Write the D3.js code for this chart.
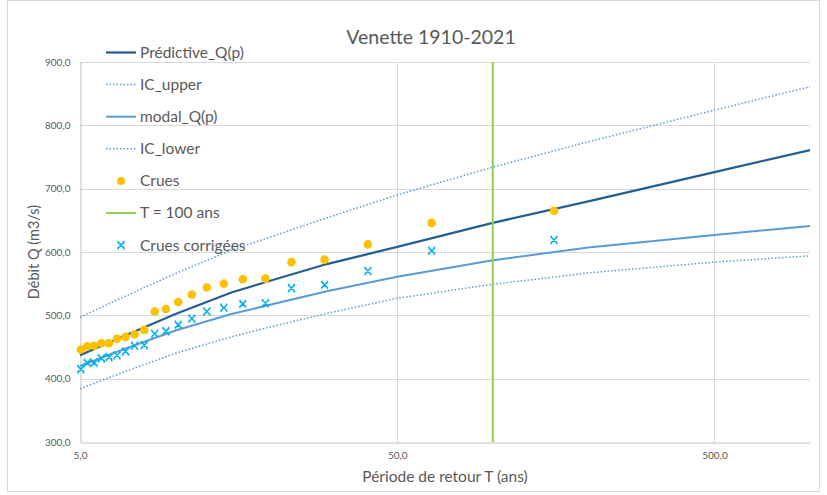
<!DOCTYPE html>
<html>
<head>
<meta charset="utf-8">
<title>Venette 1910-2021</title>
<script src="https://cdn.jsdelivr.net/npm/d3@7"></script>
<style>
  body { margin: 0; background: #fff; }
  text { font-family: Lato, "Open Sans", sans-serif; fill: #595959; }
</style>
</head>
<body>
<div id="chart"></div>
<script>
// return periods of the fitted curves
var curveT = [5, 7, 10, 15, 20, 30, 50, 100, 200, 500, 1000];
var predictiveQ = [437, 469, 502, 536, 555, 581, 608, 646, 680, 726, 761];
var icUpper = [497, 531, 566, 603, 624, 654, 690, 734, 774, 824, 861];
var modalQ = [420, 448, 476, 502, 517, 538, 561, 587, 607, 627, 641];
var icLower = [384, 412, 440, 466, 482, 503, 527, 549, 567, 584, 594];

// observed floods (plotting positions)
var cruesT = [156.0, 64.2, 40.4, 29.5, 23.2, 19.2, 16.3, 14.2, 12.55, 11.26, 10.2,
              9.33, 8.60, 7.97, 7.43, 6.96, 6.54, 6.17, 5.84, 5.54, 5.27, 5.03];
var cruesQ = [665, 646, 612, 588, 584, 558, 557, 550, 544, 533, 521,
              510, 506, 477, 470, 466, 463, 456, 456, 452, 451, 446];
var corrigeesQ = [619, 602, 570, 548, 543, 519, 518, 512, 506, 495, 485,
                  475, 471, 453, 452, 443, 437, 434, 432, 425, 425, 415];

var T100 = 100;
var xTicks = [5, 50, 500];
var yTicks = [300, 400, 500, 600, 700, 800, 900];

var W = 827, H = 495;
var plotLeft = 80, plotRight = 810, plotTop = 62, plotBottom = 442;

var svg = d3.select("#chart").append("svg")
    .attr("width", W)
    .attr("height", H);

var x = d3.scaleLog().domain([5, 1000]).range([plotLeft, plotRight]);
var y = d3.scaleLinear().domain([300, 900]).range([plotBottom, plotTop]);

var fmt = function(d) { return d3.format(".1f")(d).replace(".", ","); };

// chart frame
svg.append("rect")
    .attr("x", 7.5).attr("y", 0.5)
    .attr("width", 812).attr("height", 491)
    .attr("fill", "none")
    .attr("stroke", "#d9d9d9");

// grid
svg.append("g")
    .selectAll("line")
    .data(yTicks.slice(1))
    .enter().append("line")
    .attr("x1", plotLeft).attr("x2", plotRight)
    .attr("y1", function(d) { return Math.round(y(d)) + 0.5; })
    .attr("y2", function(d) { return Math.round(y(d)) + 0.5; })
    .attr("stroke", "#d9d9d9");

svg.append("g")
    .selectAll("line")
    .data(xTicks.slice(1))
    .enter().append("line")
    .attr("x1", function(d) { return Math.round(x(d)) + 0.5; })
    .attr("x2", function(d) { return Math.round(x(d)) + 0.5; })
    .attr("y1", plotTop).attr("y2", plotBottom)
    .attr("stroke", "#d9d9d9");

// axes
var xAxis = d3.axisBottom(x).tickValues(xTicks).tickFormat(fmt).tickSize(0).tickPadding(9);
var yAxis = d3.axisLeft(y).tickValues(yTicks).tickFormat(fmt).tickSize(0).tickPadding(10);

var gx = svg.append("g")
    .attr("transform", "translate(0," + (plotBottom + 0.5) + ")")
    .call(xAxis);
gx.select(".domain").attr("stroke", "#bfbfbf");
gx.selectAll("text").style("font-size", "10px").attr("fill", "#595959");

var gy = svg.append("g")
    .attr("transform", "translate(" + (plotLeft + 0.5) + ",0)")
    .call(yAxis);
gy.select(".domain").attr("stroke", "#bfbfbf");
gy.selectAll("text").style("font-size", "10px").attr("fill", "#595959");

// curves
var line = d3.line()
    .x(function(d) { return x(d[0]); })
    .y(function(d) { return y(d[1]); });

function drawCurve(values, color, width, dash) {
    svg.append("path")
        .attr("d", line(d3.zip(curveT, values)))
        .attr("fill", "none")
        .attr("stroke", color)
        .attr("stroke-width", width)
        .attr("stroke-dasharray", dash || null);
}

drawCurve(icUpper, "#5B9BD5", 1.5, "1.5,2");
drawCurve(icLower, "#5B9BD5", 1.5, "1.5,2");
drawCurve(modalQ, "#5B9BD5", 2, null);
drawCurve(predictiveQ, "#255E91", 2.25, null);

// T = 100 ans
svg.append("line")
    .attr("x1", x(T100)).attr("x2", x(T100))
    .attr("y1", plotTop).attr("y2", plotBottom)
    .attr("stroke", "#92D050")
    .attr("stroke-width", 2);

// observed floods
svg.append("g")
    .selectAll("circle")
    .data(d3.zip(cruesT, cruesQ))
    .enter().append("circle")
    .attr("cx", function(d) { return x(d[0]); })
    .attr("cy", function(d) { return y(d[1]); })
    .attr("r", 4.3)
    .attr("fill", "#FFC000");

// excel style "x" marker
var cross = "M-3.5,-3.5L3.5,3.5M3.5,-3.5L-3.5,3.5M-3.5,-3.5h1.5M2,-3.5h1.5M-3.5,3.5h1.5M2,3.5h1.5";
svg.append("g")
    .selectAll("path")
    .data(d3.zip(cruesT, corrigeesQ))
    .enter().append("path")
    .attr("transform", function(d) { return "translate(" + x(d[0]) + "," + y(d[1]) + ")"; })
    .attr("d", cross)
    .attr("fill", "none")
    .attr("stroke", "#00B0F0")
    .attr("stroke-width", 1.6);

// legend
var legend = [
    {name: "Prédictive_Q(p)", type: "line", color: "#255E91", width: 2.25},
    {name: "IC_upper", type: "line", color: "#5B9BD5", width: 1.5, dash: "1.5,2"},
    {name: "modal_Q(p)", type: "line", color: "#5B9BD5", width: 2},
    {name: "IC_lower", type: "line", color: "#5B9BD5", width: 1.5, dash: "1.5,2"},
    {name: "Crues", type: "dot", color: "#FFC000"},
    {name: "T = 100 ans", type: "line", color: "#92D050", width: 2},
    {name: "Crues corrigées", type: "cross", color: "#00B0F0"}
];

var lg = svg.append("g").selectAll("g")
    .data(legend)
    .enter().append("g")
    .attr("transform", function(d, i) { return "translate(106," + (52.5 + i * 32.1) + ")"; });

lg.filter(function(d) { return d.type == "line"; })
    .append("line")
    .attr("x1", 0).attr("x2", 30)
    .attr("stroke", function(d) { return d.color; })
    .attr("stroke-width", function(d) { return d.width; })
    .attr("stroke-dasharray", function(d) { return d.dash || null; });

lg.filter(function(d) { return d.type == "dot"; })
    .append("circle")
    .attr("cx", 15).attr("r", 4)
    .attr("fill", function(d) { return d.color; });

lg.filter(function(d) { return d.type == "cross"; })
    .append("path")
    .attr("transform", "translate(15,0)")
    .attr("d", cross)
    .attr("fill", "none")
    .attr("stroke", function(d) { return d.color; })
    .attr("stroke-width", 1.6);

lg.append("text")
    .attr("x", 34)
    .attr("dy", "0.35em")
    .style("font-size", "15.5px")
    .text(function(d) { return d.name; });

// titles
svg.append("text")
    .attr("x", 431).attr("y", 44)
    .attr("text-anchor", "middle")
    .style("font-size", "19.5px")
    .text("Venette 1910-2021");

svg.append("text")
    .attr("x", 445).attr("y", 482)
    .attr("text-anchor", "middle")
    .style("font-size", "15.5px")
    .text("Période de retour T (ans)");

svg.append("text")
    .attr("transform", "translate(39,252) rotate(-90)")
    .attr("text-anchor", "middle")
    .style("font-size", "14.5px")
    .text("Débit Q (m3/s)");
</script>
</body>
</html>
